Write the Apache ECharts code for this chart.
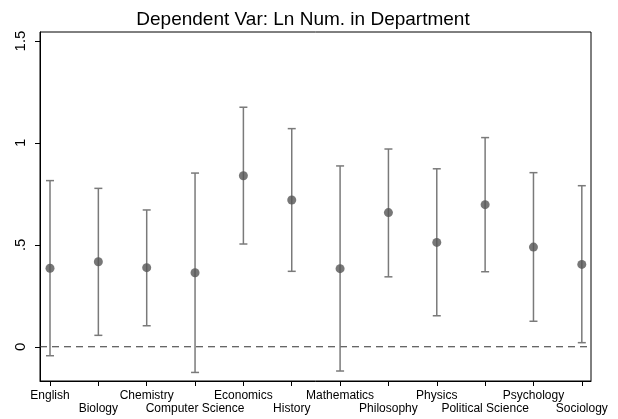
<!DOCTYPE html>
<html>
<head>
<meta charset="utf-8">
<script src="https://cdn.jsdelivr.net/npm/echarts@6/dist/echarts.min.js"></script>
<style>html,body{margin:0;padding:0;background:#fff}#c{width:618px;height:419px}</style>
</head>
<body>
<div id="c"></div>
<script>
const categories = ['English','Biology','Chemistry','Computer Science','Economics','History','Mathematics','Philosophy','Physics','Political Science','Psychology','Sociology'];
const estimates = [0.385, 0.417, 0.388, 0.363, 0.839, 0.720, 0.383, 0.658, 0.512, 0.697, 0.489, 0.404];
const lower = [-0.044, 0.056, 0.103, -0.126, 0.504, 0.370, -0.119, 0.343, 0.152, 0.368, 0.125, 0.020];
const upper = [0.815, 0.777, 0.671, 0.852, 1.175, 1.070, 0.887, 0.970, 0.873, 1.026, 0.854, 0.790];
const yTicks = [0, 0.5, 1, 1.5];
const yTickLabels = ['0', '.5', '1', '1.5'];
const refLineY = 0;

const xPos = categories.map((c, i) => i + 1);
const xPosUpper = xPos.filter((x, i) => i % 2 === 0);
const xPosLower = xPos.filter((x, i) => i % 2 === 1);
const xMin = 0.793, xMax = 12.19;
const font = 'Liberation Sans, Arial, sans-serif';

function catLabel(v) { return categories[Math.round(v) - 1] || ''; }

const chart = echarts.init(document.getElementById('c'), null, {renderer: 'canvas'});
chart.setOption({
  animation: false,
  backgroundColor: '#fff',
  title: {
    text: 'Dependent Var: Ln Num. in Department',
    left: 298, textAlign: 'center', top: 5,
    textStyle: {fontFamily: font, fontSize: 19, fontWeight: 'normal', color: '#000'}
  },
  grid: {left: 40, top: 32, right: 27, bottom: 38, show: true, borderColor: '#000', borderWidth: 1},
  xAxis: [
    {
      type: 'value', min: xMin, max: xMax, position: 'bottom',
      splitLine: {show: false},
      axisLine: {onZero: false, lineStyle: {color: '#000', width: 1}},
      axisTick: {customValues: xPos, length: 5, lineStyle: {color: '#000'}},
      axisLabel: {
        customValues: xPosUpper, margin: 9, hideOverlap: false,
        fontFamily: font, fontSize: 12, color: '#000',
        formatter: catLabel
      }
    },
    {
      type: 'value', min: xMin, max: xMax, position: 'bottom',
      splitLine: {show: false},
      axisLine: {show: false, onZero: false},
      axisTick: {show: false},
      axisLabel: {
        customValues: xPosLower, margin: 22, hideOverlap: false,
        fontFamily: font, fontSize: 12, color: '#000',
        formatter: catLabel
      }
    }
  ],
  yAxis: {
    type: 'value', min: -0.168, max: 1.544,
    splitLine: {show: false},
    axisLine: {show: true, onZero: false, lineStyle: {color: '#000', width: 1}},
    axisTick: {customValues: yTicks, length: 5, lineStyle: {color: '#000'}},
    axisLabel: {
      customValues: yTicks, rotate: 90, margin: 12,
      fontFamily: font, fontSize: 15, color: '#000',
      formatter: function (v) {
        const i = yTicks.findIndex(t => Math.abs(t - v) < 1e-6);
        return i >= 0 ? yTickLabels[i] : '';
      }
    }
  },
  series: [
    {
      type: 'line',
      data: [[xMin, refLineY], [xMax, refLineY]],
      symbol: 'none', silent: true,
      lineStyle: {color: '#333', width: 1, type: [7, 5]},
      z: 1
    },
    {
      type: 'custom',
      data: xPos.map((x, i) => [x, lower[i], upper[i]]),
      renderItem: function (params, api) {
        const x = api.value(0);
        const lo = api.coord([x, api.value(1)]);
        const hi = api.coord([x, api.value(2)]);
        const hw = 4;
        const st = {stroke: '#7a7a7a', lineWidth: 1.5};
        return {
          type: 'group',
          children: [
            {type: 'line', shape: {x1: lo[0], y1: lo[1], x2: hi[0], y2: hi[1]}, style: st},
            {type: 'line', shape: {x1: lo[0] - hw, y1: lo[1], x2: lo[0] + hw, y2: lo[1]}, style: st},
            {type: 'line', shape: {x1: hi[0] - hw, y1: hi[1], x2: hi[0] + hw, y2: hi[1]}, style: st}
          ]
        };
      },
      z: 2
    },
    {
      type: 'scatter',
      data: xPos.map((x, i) => [x, estimates[i]]),
      symbol: 'circle', symbolSize: 9,
      itemStyle: {color: '#555'},
      z: 3
    }
  ]
});
</script>
</body>
</html>
